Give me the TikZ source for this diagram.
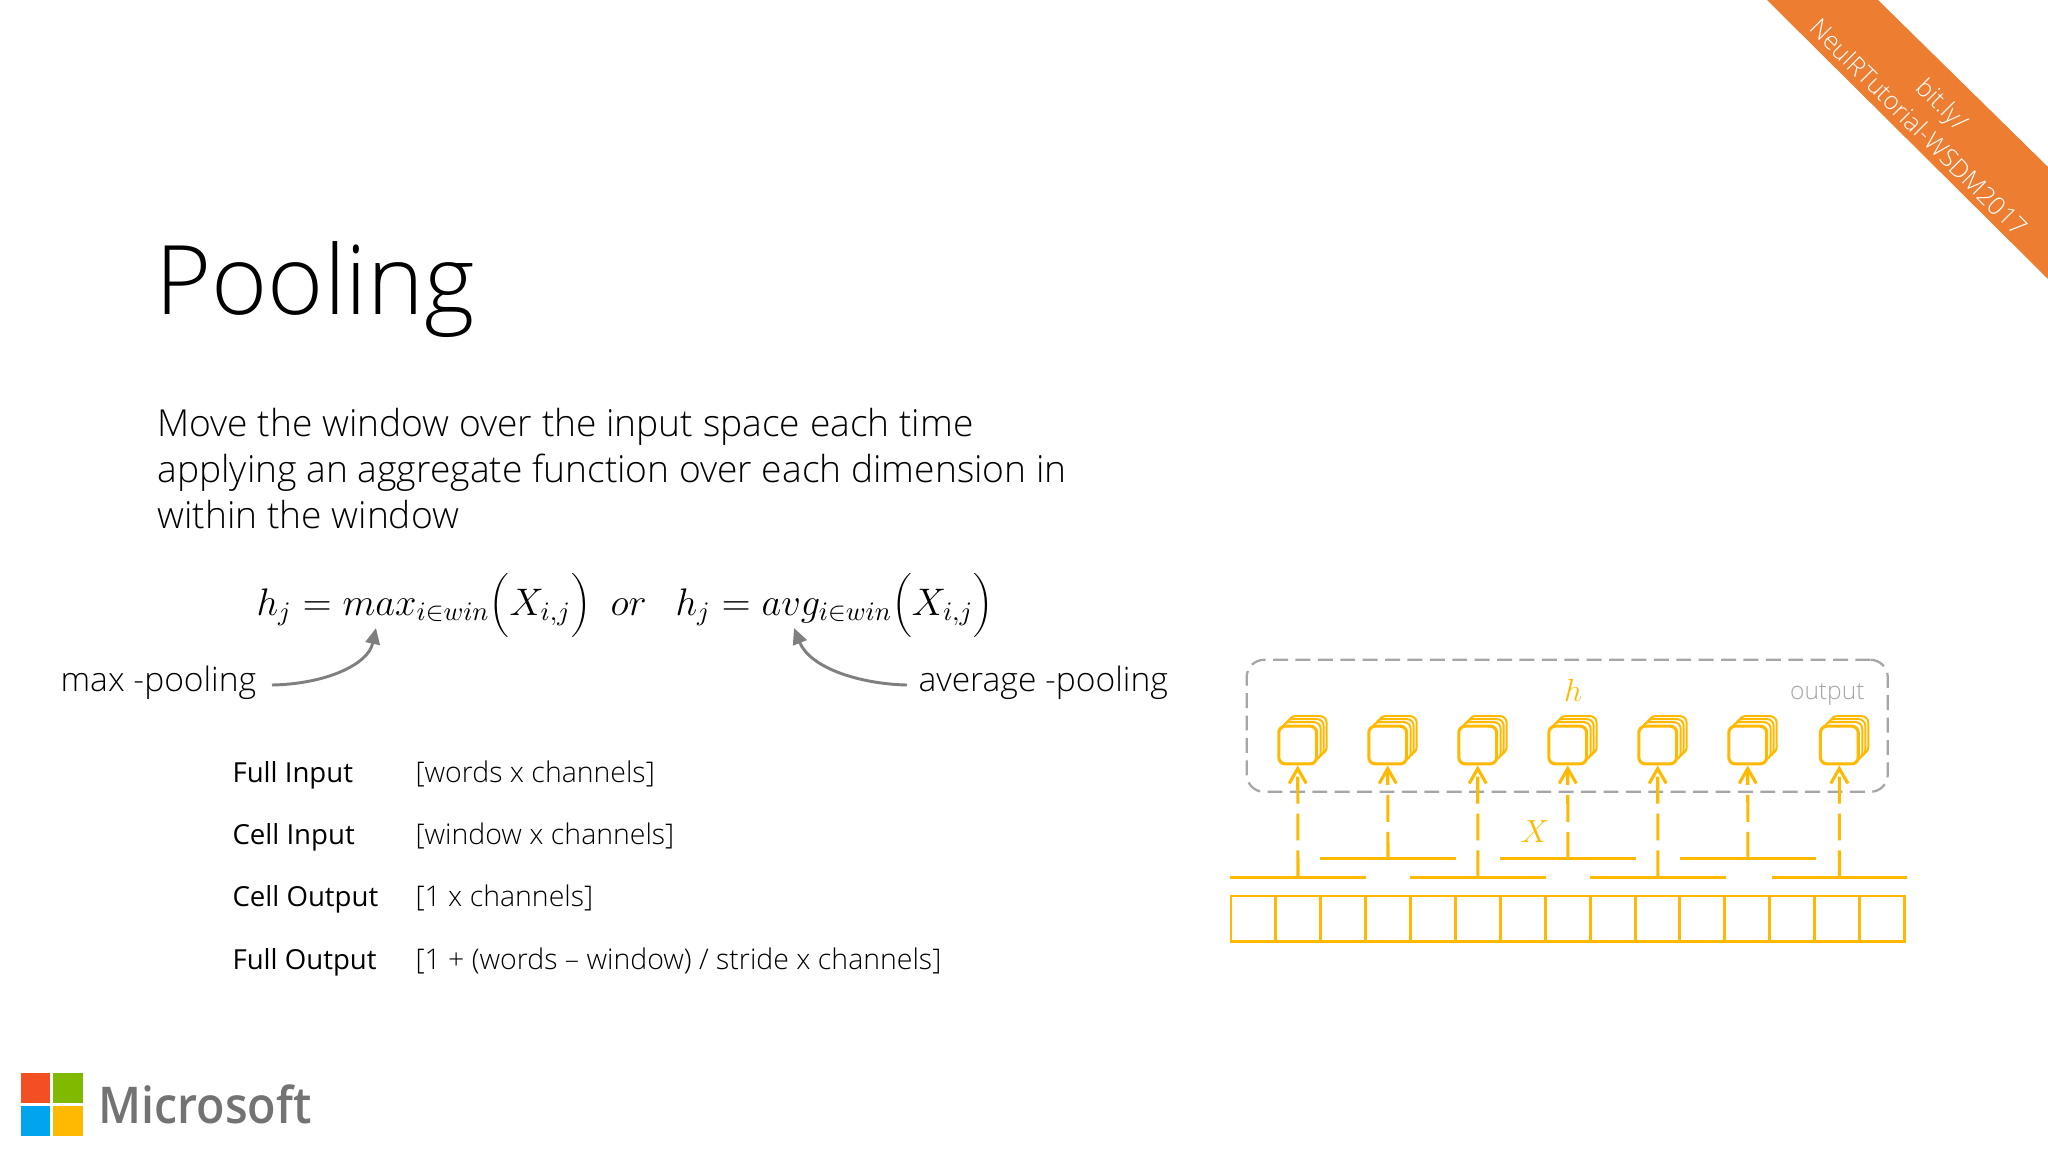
\documentclass[tikz,border=0pt]{standalone}
\usepackage{fontspec}
\setmainfont{Open Sans}
\newfontfamily\lightf{Open Sans Light}
\newfontfamily\logof[FakeStretch=0.92]{Open Sans Semibold}
\usetikzlibrary{arrows.meta}
\definecolor{yel}{HTML}{FFB900}
\definecolor{org}{HTML}{ED7D31}
\definecolor{dgrey}{HTML}{A6A6A6}
\definecolor{agrey}{HTML}{7F7F7F}
\definecolor{msr}{HTML}{F25022}
\definecolor{msg}{HTML}{7FBA00}
\definecolor{msb}{HTML}{00A4EF}
\definecolor{mst}{HTML}{737373}
\tikzset{
 yline/.style={draw=yel,line width=1.15pt},
 cellbox/.style={draw=yel,fill=white,line width=1.15pt,rounded corners=2.5pt,minimum size=14.2pt,inner sep=0pt},
 backbox/.style={cellbox,line width=0.75pt},
 gridbox/.style={draw=yel,line width=1.1pt,minimum width=16.83pt,minimum height=16.9pt,inner sep=0pt},
 upconn/.style={draw=yel,line width=1.15pt,dash pattern=on 10.1pt off 3.75pt,-{Straight Barb[length=5.6pt,width=6.4pt]}},
 bodytext/.style={anchor=base west,inner sep=0pt,font=\lightf\fontsize{13.95}{17}\selectfont},
 lbl/.style={anchor=base west,inner sep=0pt,font=\fontsize{10.35}{13}\selectfont},
 val/.style={anchor=base west,inner sep=0pt,font=\lightf\fontsize{10.67}{13}\selectfont},
 frm/.style={anchor=base west,inner sep=0pt,font=\fontsize{14.8}{18}\selectfont},
 curved/.style={draw=agrey,line width=1.1pt,-{Triangle[length=6pt,width=5.4pt]}},
 ptext/.style={anchor=base west,inner sep=0pt,font=\lightf\fontsize{12.6}{15}\selectfont},
 bantext/.style={rotate=-45,text=white,inner sep=0pt,font=\lightf\fontsize{9.45}{12}\selectfont},
}
\begin{document}
\begin{tikzpicture}[x=0.375pt,y=-0.375pt]
\useasboundingbox (0,0) rectangle (2048,1152);
\fill[white] (0,0) rectangle (2048,1152);
% banner
\fill[org] (1767,0) -- (1878,0) -- (2048,167) -- (2048,279) -- cycle;
\node[bantext] (b1) at (1941,106) {bit.ly/};
\node[bantext] (b2) at (1919,127) {NeuIRTutorial-WSDM2017};
% title
\node[anchor=base west,inner sep=0pt,font=\lightf\fontsize{36}{40}\selectfont] (title) at (155,314) {Pooling};
\node[bodytext] (l1) at (157,436) {Move the window over the input space each time};
\node[bodytext] (l2) at (157,482) {applying an aggregate function over each dimension in};
\node[bodytext] (l3) at (157,528) {within the window};
% formulas
\node[frm] (f1) at (256,615) {$h_j = max_{i\in win}\biggl(X_{i,j}\biggr)$};
\node[frm] (for) at (610,615) {$or$};
\node[frm] (f2) at (675,615) {$h_j = avg_{i\in win}\biggl(X_{i,j}\biggr)$};
\node[ptext] (mp) at (60,691) {max -pooling};
\node[ptext] (ap) at (918,691) {average -pooling};
\coordinate (ms) at (272,685);
\coordinate (mt) at (376,628);
\coordinate (as) at (907,685);
\coordinate (at1) at (794,628);
\draw[curved] (ms) .. controls (325,684) and (368,665) .. (mt);
\draw[curved] (as) .. controls (860,684) and (810,668) .. (at1);
% table
\node[lbl] (a1) at (232,782) {Full Input};
\node[val] (v1) at (415,782) {[words x channels]};
\node[lbl] (a2) at (232,844) {Cell Input};
\node[val] (v2) at (415,844) {[window x channels]};
\node[lbl] (a3) at (232,906) {Cell Output};
\node[val] (v3) at (415,906) {[1 x channels]};
\node[lbl] (a4) at (232,969) {Full Output};
\node[val] (v4) at (415,969) {[1 + (words – window) / stride x channels]};
% logo
\fill[msr] (20.7,1073) rectangle (50,1103);
\fill[msg] (53,1073) rectangle (83,1103);
\fill[msb] (20.7,1106) rectangle (50,1136);
\fill[yel] (53,1106) rectangle (83,1136);
\node[anchor=base west,inner sep=0pt,text=mst,font=\logof\fontsize{19}{22}\selectfont] (ms1) at (98,1123) {Microsoft};
% output box
\node[draw=dgrey,line width=0.85pt,dash pattern=on 5.6pt off 2.8pt,rounded corners=6.5pt,minimum width=240.4pt,minimum height=49.5pt,inner sep=0pt] (obox) at (1567.2,725.8) {};
\node[anchor=base east,inner sep=0pt,text=dgrey,font=\lightf\fontsize{9.2}{11}\selectfont] (otxt) at (1865,699) {output};
\node[text=yel,inner sep=0pt,font=\fontsize{13}{15}\selectfont] (hh) at (1573,690) {$h$};
\node[text=yel,inner sep=0pt,font=\fontsize{13}{15}\selectfont] (xx) at (1535,832) {$X$};
% bars
\foreach \i/\a/\b/\y in {1/1230/1366/877.4,2/1320/1456/858.7,3/1410/1545.7/877.4,4/1500/1635.7/858.7,5/1590/1725.7/877.4,6/1680/1815.7/858.7,7/1771.7/1907.3/877.4}{
 \coordinate (barL\i) at (\a,\y);
 \coordinate (barR\i) at (\b,\y);
 \coordinate (barM\i) at ({(\a+\b)/2},\y);
 \draw[yline] (barL\i) -- (barR\i);
}
% cells
\foreach \i/\x in {1/1297.7,2/1387.7,3/1477.7,4/1567.7,5/1657.7,6/1747.7,7/1839.3}{
 \node[backbox] (back\i c) at (\x+10,735) {};
 \node[backbox] (back\i b) at (\x+7,738) {};
 \node[backbox] (back\i a) at (\x+4,741) {};
 \node[cellbox] (cell\i) at (\x,745) {};
 \draw[upconn] (barM\i) -- (cell\i.south);
}
% grid
\foreach \i in {0,...,14}{
 \node[gridbox] (g\i) at ({1231+22.45+\i*44.89},918.5) {};
}
\end{tikzpicture}
\end{document}
